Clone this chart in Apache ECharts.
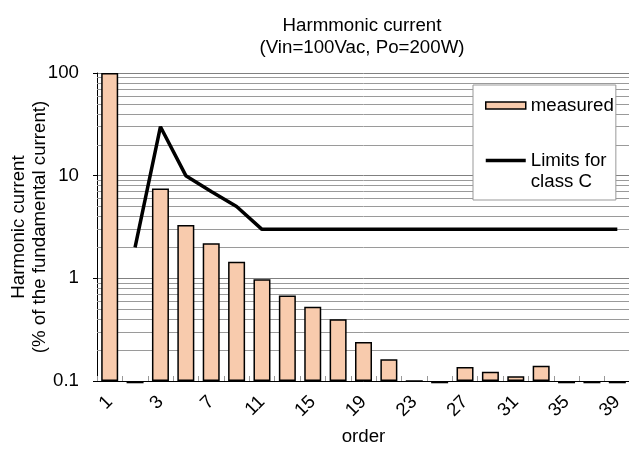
<!DOCTYPE html>
<html>
<head>
<meta charset="utf-8">
<script src="https://cdn.jsdelivr.net/npm/echarts@6/dist/echarts.min.js"></script>
<style>html,body{margin:0;padding:0;background:#fff}#c{width:629px;height:450px}</style>
</head>
<body>
<div id="c"></div>
<script>
// harmonic orders (categories)
var orders = ['1','2','3','5','7','9','11','13','15','17','19','21','23','25','27','29','31','33','35','37','39'];
// measured harmonic current, % of fundamental
var measured = [100, 0.095, 7.5, 3.3, 2.2, 1.45, 0.98, 0.68, 0.53, 0.40, 0.24, 0.163, 0.1, 0.095, 0.137, 0.123, 0.111, 0.141, 0.095, 0.095, 0.095];
// IEC class C limits
var limits = [null, 2, 30, 10, 7, 5, 3, 3, 3, 3, 3, 3, 3, 3, 3, 3, 3, 3, 3, 3, 3];
// minor grid values on the log axis
var minorGrid = [0.2,0.3,0.4,0.5,0.6,0.7,0.8,0.9,2,3,4,5,6,7,8,9,20,30,40,50,60,70,80,90];

var FONT = 'Liberation Sans';
var FS = 18.7;
var chart = echarts.init(document.getElementById('c'), null, {renderer: 'canvas'});
chart.setOption({
  animation: false,
  backgroundColor: '#fff',
  textStyle: {fontFamily: FONT, color: '#000'},
  title: {
    text: 'Harmmonic current\n(Vin=100Vac, Po=200W)',
    left: 362, top: 15, padding: 0, textAlign: 'center',
    textStyle: {fontFamily: FONT, fontSize: FS, fontWeight: 'normal', color: '#000', lineHeight: 22}
  },
  grid: {left: 97, right: -1, top: 73, bottom: 69, containLabel: false, outerBoundsMode: 'none'},
  legend: {
    orient: 'vertical', left: 473, top: 85,
    padding: [11, 2, 9, 11],
    itemGap: 14, itemWidth: 40, itemHeight: 7,
    backgroundColor: '#fff', borderColor: '#999', borderWidth: 1, borderRadius: 0,
    data: [
      {name: 'measured', icon: 'rect', itemStyle: {color: '#F8CBAD', borderColor: '#000', borderWidth: 1.5}},
      {name: 'Limits for class C', itemStyle: {opacity: 0}, lineStyle: {color: '#000', width: 3.5}}
    ],
    formatter: function (n) {
      return n === 'measured' ? '{t|measured}' : '{e| }\n{t|Limits for}\n{t|class C}';
    },
    textStyle: {
      fontFamily: FONT, fontSize: FS, color: '#000',
      rich: {
        t: {fontFamily: FONT, fontSize: FS, color: '#000', lineHeight: 21},
        e: {fontFamily: FONT, fontSize: FS, lineHeight: 21, height: 21}
      }
    }
  },
  xAxis: {
    type: 'category', data: orders,
    name: 'order', nameLocation: 'middle', nameGap: 46, nameMoveOverlap: false,
    nameTextStyle: {fontFamily: FONT, fontSize: FS, color: '#000'},
    axisLine: {show: true, onZero: false, lineStyle: {color: '#000', width: 1}},
    axisTick: {show: true, inside: true, length: 5, interval: 0, lineStyle: {color: '#999'}},
    axisLabel: {interval: 1, rotate: 45, margin: 18, fontFamily: FONT, fontSize: FS, color: '#000'},
    splitLine: {show: false}
  },
  yAxis: {
    type: 'log', logBase: 10, min: 0.1, max: 100, startValue: 0.1,
    name: 'Harmonic current\n(% of the fundamental current)',
    nameLocation: 'middle', nameGap: 47, nameMoveOverlap: false,
    nameTextStyle: {fontFamily: FONT, fontSize: FS, color: '#000', lineHeight: 21},
    axisLine: {show: true, lineStyle: {color: '#000', width: 1}},
    axisTick: {show: true, length: 4, lineStyle: {color: '#000'}},
    axisLabel: {margin: 18, fontFamily: FONT, fontSize: FS, color: '#000',
      formatter: function (v) { return String(+v.toPrecision(3)); }},
    splitLine: {show: true, lineStyle: {color: '#808080', width: 1}}
  },
  series: [
    {
      name: 'measured', type: 'bar', data: measured, barWidth: 17, clip: false,
      itemStyle: {color: '#F8CBAD', borderColor: '#000', borderWidth: 1.5},
      markLine: {
        silent: true, z: 1, symbol: ['none', 'none'], animation: false,
        label: {show: false},
        lineStyle: {color: '#9a9a9a', width: 1, type: 'solid'},
        emphasis: {disabled: true},
        data: minorGrid.map(function (v) { return {yAxis: v}; })
      }
    },
    {
      name: 'Limits for class C', type: 'line', data: limits,
      symbol: 'none', showSymbol: false, connectNulls: false,
      lineStyle: {color: '#000', width: 3.5}, itemStyle: {color: '#000'}, z: 5
    }
  ]
});
</script>
</body>
</html>
